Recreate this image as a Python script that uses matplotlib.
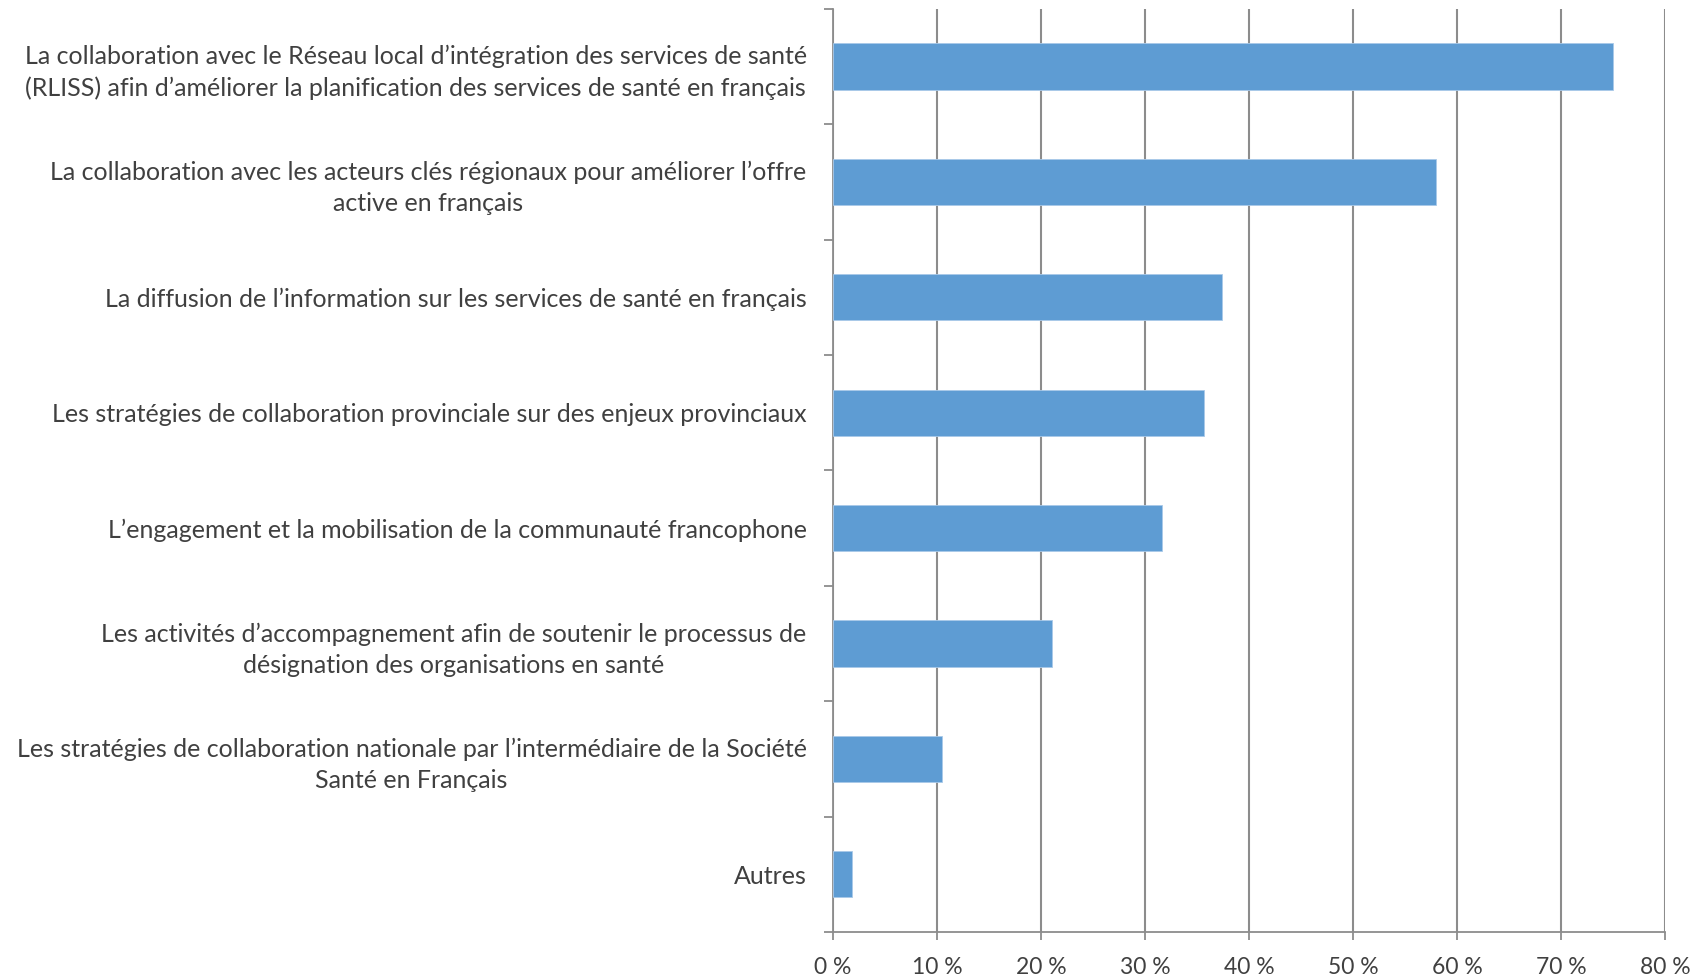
import matplotlib
matplotlib.use('Agg')
import matplotlib.pyplot as plt
import numpy as np

labels = [
    "La collaboration avec le Réseau local d’intégration des services de santé\n(RLISS) afin d’améliorer la planification des services de santé en français",
    "La collaboration avec les acteurs clés régionaux pour améliorer l’offre\nactive en français",
    "La diffusion de l’information sur les services de santé en français",
    "Les stratégies de collaboration provinciale sur des enjeux provinciaux",
    "L’engagement et la mobilisation de la communauté francophone",
    "Les activités d’accompagnement afin de soutenir le processus de\ndésignation des organisations en santé",
    "Les stratégies de collaboration nationale par l’intermédiaire de la Société\nSanté en Français",
    "Autres",
]
values = [75.0, 58.0, 37.4, 35.7, 31.6, 21.1, 10.5, 1.8]
xticks = [0, 10, 20, 30, 40, 50, 60, 70, 80]
xtick_labels = ["0\u00a0%", "10\u00a0%", "20\u00a0%", "30\u00a0%", "40\u00a0%",
                "50\u00a0%", "60\u00a0%", "70\u00a0%", "80\u00a0%"]

plt.rcParams['font.family'] = ['Lato', 'DejaVu Sans']
text_col = '#404040'
grid_col = '#8c8c8c'

fig = plt.figure(figsize=(17.07, 9.8), dpi=100)
ax = fig.add_axes([0.488, 0.049, 0.4874, 0.942])

y = np.arange(len(labels))
ax.barh(y, values, height=0.4, color='#5e9cd3', edgecolor='#a9c9e9', linewidth=0.6, zorder=3)

ax.set_xlim(0, 80)
ax.set_ylim(len(labels) - 0.5, -0.5)

ax.set_xticks(xticks)
ax.set_xticklabels(xtick_labels, fontsize=16.5, color=text_col)
ax.xaxis.grid(True, color=grid_col, linewidth=1.5, zorder=0)
ax.tick_params(axis='x', direction='out', length=6, width=1.3, color=grid_col, pad=12)

ax.set_yticks(y)
ax.set_yticklabels(labels, fontsize=18, color=text_col, multialignment='center', linespacing=1.42)
ax.tick_params(axis='y', which='major', length=0, pad=19)
ax.set_yticks(np.arange(-0.5, len(labels)), minor=True)
ax.tick_params(axis='y', which='minor', direction='out', length=6.5, width=1.3, color=grid_col)

for s in ['top', 'right']:
    ax.spines[s].set_visible(False)
for s in ['left', 'bottom']:
    ax.spines[s].set_color(grid_col)
    ax.spines[s].set_linewidth(1.3)

fig.savefig('out.png', dpi=100)
